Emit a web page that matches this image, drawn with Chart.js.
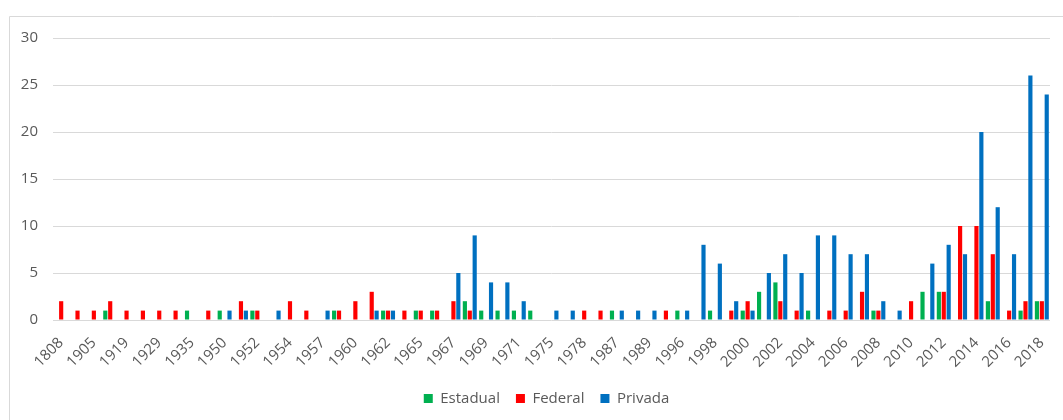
<!DOCTYPE html>
<html>
<head>
<meta charset="utf-8">
<script src="https://cdn.jsdelivr.net/npm/chart.js@4"></script>
<style>
  html, body { margin: 0; background: #fff; overflow: hidden; }
  #wrap { position: absolute; left: 0; top: 0; width: 1063px; height: 420px; }
</style>
</head>
<body>
<div id="wrap"><canvas id="grafico"></canvas></div>
<script>
// anos (só os pares aparecem no eixo)
const anos = ['1808','1827','1905','1912','1919','1922','1929','1934','1935','1946',
  '1950','1951','1952','1953','1954','1956','1957','1959','1960','1961',
  '1962','1964','1965','1966','1967','1968','1969','1970','1971','1972',
  '1975','1976','1978','1980','1987','1988','1989','1991','1996','1997',
  '1998','1999','2000','2001','2002','2003','2004','2005','2006','2007',
  '2008','2009','2010','2011','2012','2013','2014','2015','2016','2017','2018'];

const estadual = [0,0,0,1,0,0,0,0,1,0, 1,0,1,0,0,0,0,1,0,0, 1,0,1,1,0,2,1,1,1,1,
  0,0,0,0,1,0,0,0,1,0, 1,0,1,3,4,0,1,0,0,0, 1,0,0,3,3,0,0,2,0,1,2];
const federal = [2,1,1,2,1,1,1,1,0,1, 0,2,1,0,2,1,0,1,2,3, 1,1,1,1,2,1,0,0,0,0,
  0,0,1,1,0,0,0,1,0,0, 0,1,2,0,2,1,0,1,1,3, 1,0,2,0,3,10,10,7,1,2,2];
const privada = [0,0,0,0,0,0,0,0,0,0, 1,1,0,1,0,0,1,0,0,1, 1,0,0,0,5,9,4,4,2,0,
  1,1,0,0,1,1,1,0,1,8, 6,2,1,5,7,5,9,9,7,7, 2,1,0,6,8,7,20,12,7,26,24];

const ticksY = [0, 5, 10, 15, 20, 25, 30];

const cinza = '#595959';
const fonte = "'Open Sans', 'Liberation Sans', sans-serif";

// legenda do excel fica centrada na área do gráfico, não no canvas todo
const desloca_legenda = {
  id: 'desloca_legenda',
  afterLayout(chart) {
    const lg = chart.legend;
    const d = (chart.chartArea.left + chart.chartArea.right) / 2 - (lg.left + lg.right) / 2 - 5;
    lg.left += d;
    lg.right += d;
  }
};

// moldura cinza (só esquerda e topo aparecem no recorte)
const moldura = {
  id: 'moldura',
  beforeDraw(chart) {
    const c = chart.ctx;
    c.save();
    c.strokeStyle = '#d9d9d9';
    c.lineWidth = 1;
    c.beginPath();
    c.moveTo(9.5, chart.height);
    c.lineTo(9.5, 16.5);
    c.lineTo(chart.width, 16.5);
    c.stroke();
    c.restore();
  }
};

const ctx = document.getElementById('grafico').getContext('2d');
const grafico = new Chart(ctx, {
  type: 'bar',
  data: {
    labels: anos,
    datasets: [
      { label: 'Estadual', data: estadual, backgroundColor: '#00B050' },
      { label: 'Federal', data: federal, backgroundColor: '#FF0000' },
      { label: 'Privada', data: privada, backgroundColor: '#0070C0' }
    ]
  },
  options: {
    responsive: true,
    maintainAspectRatio: false,
    animation: false,
    datasets: { bar: { categoryPercentage: 0.9, barPercentage: 0.85 } },
    layout: { padding: { left: 0, right: 13, top: 38, bottom: 4 } },
    plugins: {
      tooltip: { enabled: false },
      legend: {
        position: 'bottom',
        labels: { boxWidth: 9, boxHeight: 9, padding: 16, color: cinza,
                  font: { family: fonte, size: 15 } }
      }
    },
    scales: {
      x: {
        grid: { display: false },
        border: { display: false },
        afterFit: function(s) { s.height = 55; },
        ticks: {
          autoSkip: false, maxRotation: 45, minRotation: 45, padding: 6,
          color: cinza, font: { family: fonte, size: 15 },
          callback: function(v, i) { return i % 2 === 0 ? anos[i] : ''; }
        }
      },
      y: {
        min: 0, max: 30,
        afterFit: function(s) { s.width = 53; },
        afterBuildTicks: function(s) { s.ticks = ticksY.map(v => ({ value: v })); },
        border: { display: false },
        grid: { color: '#d9d9d9', drawTicks: false },
        ticks: { padding: 15, color: cinza, font: { family: fonte, size: 15 } }
      }
    }
  },
  plugins: [desloca_legenda, moldura]
});
</script>
</body>
</html>
